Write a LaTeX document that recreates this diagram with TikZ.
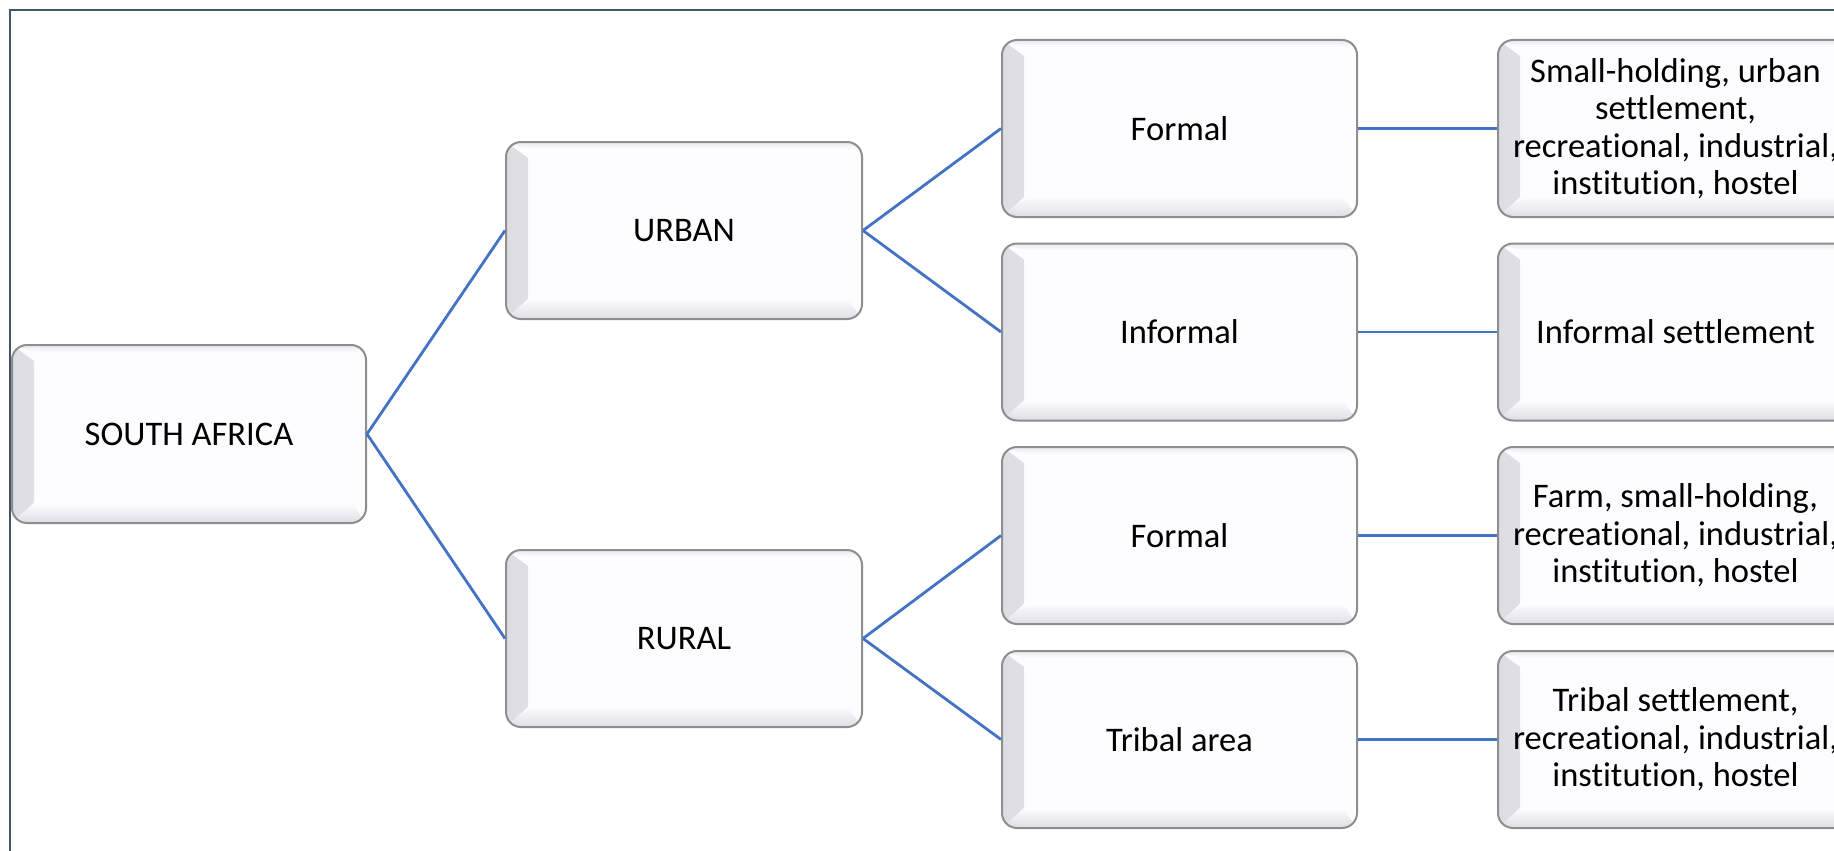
\documentclass[tikz,border=0pt]{standalone}
\usepackage{fontspec}
\setmainfont{Carlito}[Ligatures=NoCommon]
\definecolor{framec}{HTML}{44546A}
\definecolor{linkc}{HTML}{4472C4}
\definecolor{boxborder}{HTML}{8E8E8E}
\definecolor{bevelc}{HTML}{DDDDE4}
\definecolor{boxfill}{HTML}{FDFDFF}
\tikzset{
  bevelbox/.style={draw=boxborder, line width=2pt, fill=boxfill,
    rounded corners=15pt, align=center, inner sep=0pt,
    minimum width=#1, minimum height=177pt,
    font=\fontsize{34.5}{37.5}\selectfont,
    path picture={
      \shade[sharp corners, left color=bevelc, right color=boxfill]
        (path picture bounding box.south west) --
        (path picture bounding box.north west) --
        ([xshift=22pt,yshift=-16pt]path picture bounding box.north west) --
        ([xshift=22pt,yshift=20pt]path picture bounding box.south west) -- cycle;
      \shade[sharp corners, bottom color=bevelc, top color=boxfill]
        (path picture bounding box.south west) --
        ([xshift=22pt,yshift=20pt]path picture bounding box.south west) --
        ([xshift=-14pt,yshift=20pt]path picture bounding box.south east) --
        (path picture bounding box.south east) -- cycle;
      \shade[sharp corners, top color=bevelc!60, bottom color=boxfill]
        (path picture bounding box.north west) --
        (path picture bounding box.north east) --
        ([yshift=-7pt]path picture bounding box.north east) --
        ([xshift=22pt,yshift=-7pt]path picture bounding box.north west) -- cycle;
    }},
  bevelbox/.default=355pt,
  link/.style={draw=linkc, line width=2.8pt},
}
\begin{document}
\begin{tikzpicture}[x=1pt,y=-1pt]
\useasboundingbox (0,0) rectangle (1834,851);
\clip (0,0) rectangle (1834,851);
\fill[white] (0,0) rectangle (1834,851);
\draw[framec, line width=2pt] (10,860) -- (10,10.5) -- (1840,10.5);

\node[bevelbox=354pt, minimum height=178pt] (sa) at (189,434) {SOUTH AFRICA};
\node[bevelbox=356pt] (urban) at (684,230.5) {URBAN};
\node[bevelbox=356pt] (rural) at (684,638.5) {RURAL};

\node[bevelbox] (uf) at (1179.5,128.5) {Formal};
\node[bevelbox] (ui) at (1179.5,332) {Informal};
\node[bevelbox] (rf) at (1179.5,535.5) {Formal};
\node[bevelbox] (rt) at (1179.5,739.5) {Tribal area};

\node[bevelbox] (ufd) at (1675.5,128.5) {Small-holding, urban\\settlement,\\recreational, industrial,\\institution, hostel};
\node[bevelbox] (uid) at (1675.5,332) {Informal settlement};
\node[bevelbox] (rfd) at (1675.5,535.5) {Farm, small-holding,\\recreational, industrial,\\institution, hostel};
\node[bevelbox] (rtd) at (1675.5,739.5) {Tribal settlement,\\recreational, industrial,\\institution, hostel};

\draw[link] (sa.east) -- (urban.west);
\draw[link] (sa.east) -- (rural.west);
\draw[link] (urban.east) -- (uf.west);
\draw[link] (urban.east) -- (ui.west);
\draw[link] (rural.east) -- (rf.west);
\draw[link] (rural.east) -- (rt.west);
\draw[link] (uf.east) -- (ufd.west);
\draw[link] (ui.east) -- (uid.west);
\draw[link] (rf.east) -- (rfd.west);
\draw[link] (rt.east) -- (rtd.west);
\end{tikzpicture}
\end{document}
